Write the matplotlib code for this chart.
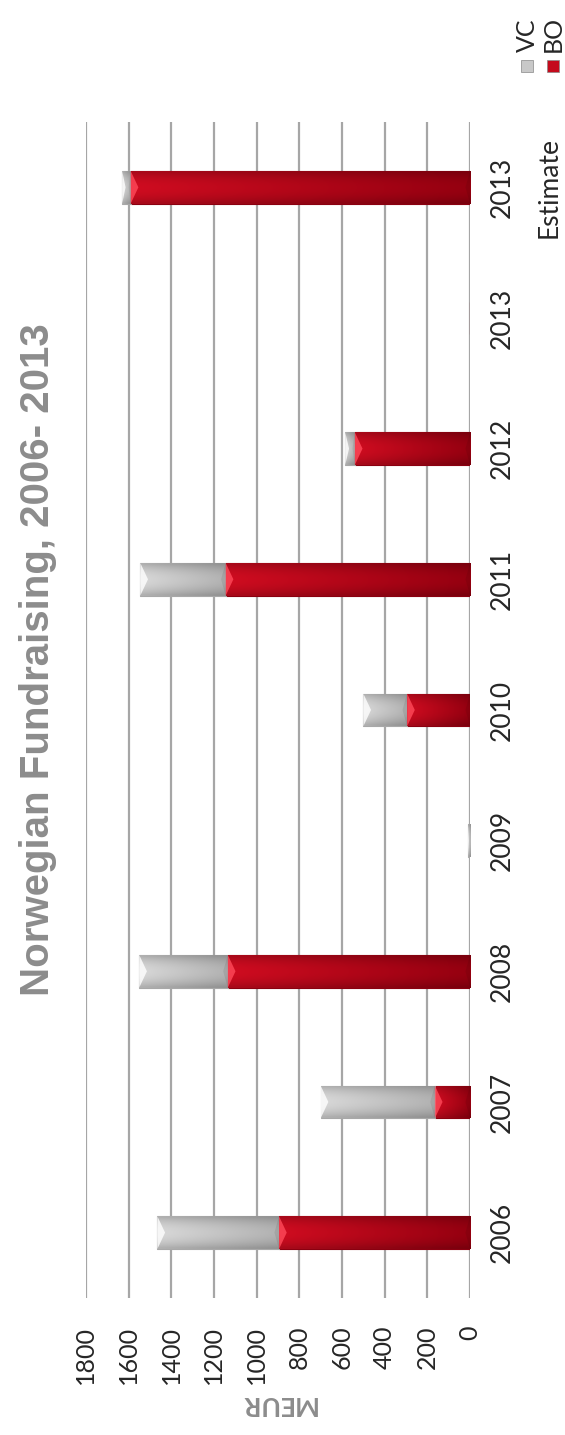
import numpy as np
import matplotlib
matplotlib.use('Agg')
from matplotlib import pyplot as plt
from matplotlib.patches import Rectangle, Polygon
from matplotlib.colors import to_rgb

# fundraising per year, MEUR
years = ['2006', '2007', '2008', '2009', '2010', '2011', '2012', '2013', '2013\nEstimate']
bo = [895, 165, 1135, 0, 295, 1145, 540, 0, 1590]
vc = [570, 535, 415, 10, 205, 400, 45, 0, 40]
value_ticks = [0, 200, 400, 600, 800, 1000, 1200, 1400, 1600, 1800]

red_light, red_dark = '#cf0c20', '#950010'
grey_light, grey_dark = '#d8d8d8', '#b2b2b2'

plt.rcParams['font.family'] = ['Lato', 'DejaVu Sans']

fig = plt.figure(figsize=(5.65, 14.35), dpi=100)
ax = fig.add_axes([0.152, 0.0955, 0.680, 0.8195])

pos = np.arange(len(years))
h = 0.25


def shade(rect, light, dark, chevron):
    # fill the bar with a gradient, brighter towards its outer end
    x0, y0 = rect.get_x(), rect.get_y()
    w, hh = rect.get_width(), rect.get_height()
    if w <= 0:
        return
    n = 60
    t = np.linspace(0, 1, n)[None, :, None]
    across = 1 - 0.18 * np.abs(np.linspace(-1, 1, 12))[:, None, None] ** 2
    c = np.array(to_rgb(dark)) + (np.array(to_rgb(light)) - np.array(to_rgb(dark))) * t
    img = np.clip(c * across, 0, 1)
    im = ax.imshow(img, extent=[x0, x0 + w, y0, y0 + hh], aspect='auto',
                   interpolation='bilinear', origin='lower', zorder=2)
    im.set_clip_path(rect)
    d = min(36, w * 0.4)
    xe = x0 + w
    ax.add_patch(Polygon([(xe, y0), (xe - d, y0 + hh / 2), (xe, y0 + hh)],
                         closed=True, facecolor=chevron, edgecolor='none',
                         alpha=0.8, zorder=3))
    ax.add_patch(Polygon([(x0, y0), (x0 + d * 0.6, y0 + hh / 2), (x0, y0 + hh)],
                         closed=True, facecolor='black', edgecolor='none',
                         alpha=0.08, zorder=3))


bars_bo = ax.barh(pos, bo, height=h, color=red_dark, edgecolor='#8a0010',
                  linewidth=0.8, zorder=2)
bars_vc = ax.barh(pos, vc, height=h, left=bo, color=grey_dark, edgecolor='#a8a8a8',
                  linewidth=0.8, zorder=2)
for r in bars_bo:
    shade(r, red_light, red_dark, '#ff4a5a')
for r in bars_vc:
    shade(r, grey_light, grey_dark, '#ffffff')

ax.set_xlim(1800, 0)
ax.set_ylim(-0.5, len(years) - 0.5)
ax.set_xticks(value_ticks)
ax.set_xticklabels([str(v) for v in value_ticks], rotation=90, fontsize=18,
                   color='#262626')
ax.yaxis.tick_right()
ax.set_yticks(pos)
ax.set_yticklabels(years, rotation=90, fontsize=19, color='#262626',
                   va='center', ha='left', multialignment='center')
for tick in ax.yaxis.get_major_ticks():
    tick.label2.set_linespacing(2.1)
ax.tick_params(axis='x', length=0, pad=20)
ax.tick_params(axis='y', length=0, pad=14)
ax.grid(axis='x', color='#a6a6a6', linewidth=1.6, zorder=0)
ax.set_axisbelow(True)
for s in ax.spines.values():
    s.set_visible(False)

ax.set_xlabel('MEUR', rotation=180, fontsize=19, fontweight='bold',
              color='#8c8c8c', labelpad=6)

fig.text(38 / 565, 1 - 660 / 1435, 'Norwegian Fundraising, 2006- 2013',
         rotation=90, ha='center', va='center', fontsize=29, fontweight='bold',
         color='#8c8c8c', family=['Liberation Sans', 'DejaVu Sans'])

# legend
for label, xc, col in [('VC', 527, '#c8c8c8'), ('BO', 553, '#c40a1c')]:
    fig.text(xc / 565, 1 - 52 / 1435, label, rotation=90, ha='center',
             va='bottom', fontsize=18, color='#262626')
    fig.add_artist(Rectangle(((xc - 6) / 565, 1 - 72 / 1435), 12 / 565, 12 / 1435,
                             transform=fig.transFigure, facecolor=col,
                             edgecolor='#888888', linewidth=0.5))

fig.savefig('out.png', dpi=100, facecolor='white')
